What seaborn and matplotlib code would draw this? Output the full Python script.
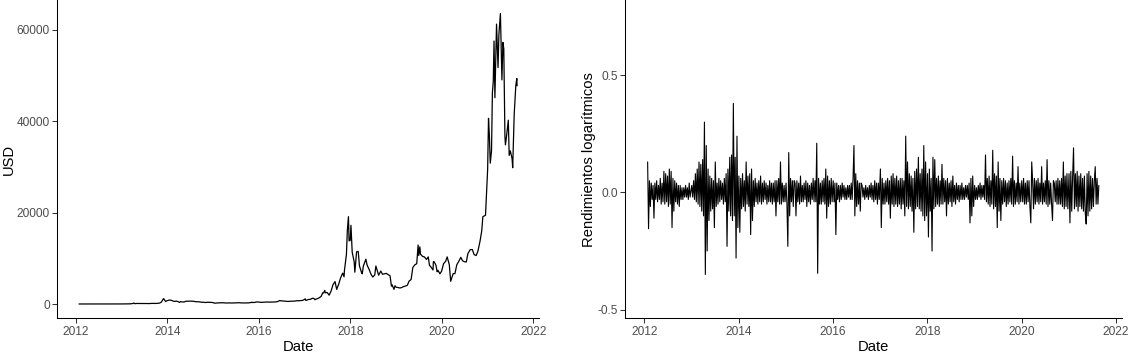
import numpy as np
import pandas as pd
import matplotlib
matplotlib.use("Agg")
import matplotlib.pyplot as plt
import matplotlib.dates as mdates
import seaborn as sns

# ---------------- data: BTC price (USD) ----------------
price_dates = [
    "2012-01-27", "2012-02-15", "2012-03-01", "2012-03-15", "2012-04-01", "2012-04-15", "2012-05-01", "2012-05-15",
    "2012-06-01", "2012-06-15", "2012-07-01", "2012-07-15", "2012-08-01", "2012-08-15", "2012-08-20", "2012-09-01",
    "2012-09-15", "2012-10-01", "2012-10-15", "2012-11-01", "2012-11-15", "2012-12-01", "2012-12-15",
    "2013-01-01", "2013-01-15", "2013-02-01", "2013-02-15", "2013-03-01", "2013-03-15", "2013-04-01", "2013-04-09",
    "2013-04-16", "2013-05-01", "2013-05-15", "2013-06-01", "2013-06-15", "2013-07-01", "2013-07-15", "2013-08-01",
    "2013-08-15", "2013-09-01", "2013-09-15", "2013-10-01", "2013-10-15", "2013-11-01", "2013-11-15", "2013-11-30",
    "2013-12-04", "2013-12-18", "2013-12-31",
    "2014-01-15", "2014-02-01", "2014-02-15", "2014-03-01", "2014-03-15", "2014-04-01", "2014-04-10", "2014-04-15",
    "2014-05-01", "2014-05-15", "2014-06-01", "2014-06-15", "2014-07-01", "2014-07-15", "2014-08-01", "2014-08-15",
    "2014-09-01", "2014-09-15", "2014-10-01", "2014-10-15", "2014-11-01", "2014-11-15", "2014-12-01", "2014-12-15",
    "2015-01-01", "2015-01-14", "2015-02-01", "2015-02-15", "2015-03-01", "2015-03-15", "2015-04-01", "2015-04-15",
    "2015-05-01", "2015-05-15", "2015-06-01", "2015-06-15", "2015-07-01", "2015-07-15", "2015-08-01", "2015-08-18",
    "2015-09-01", "2015-09-15", "2015-10-01", "2015-10-15", "2015-11-01", "2015-11-04", "2015-11-15", "2015-12-01",
    "2015-12-15",
    "2016-01-01", "2016-01-15", "2016-02-01", "2016-02-15", "2016-03-01", "2016-03-15", "2016-04-01", "2016-04-15",
    "2016-05-01", "2016-05-15", "2016-06-01", "2016-06-16", "2016-07-01", "2016-07-15", "2016-08-01", "2016-08-15",
    "2016-09-01", "2016-09-15", "2016-10-01", "2016-10-15", "2016-11-01", "2016-11-15", "2016-12-01", "2016-12-15",
    "2017-01-01", "2017-01-05", "2017-01-11", "2017-02-01", "2017-02-15", "2017-03-01", "2017-03-15", "2017-03-25",
    "2017-04-01", "2017-04-15", "2017-05-01", "2017-05-15", "2017-05-25", "2017-06-01", "2017-06-11", "2017-06-15",
    "2017-07-01", "2017-07-16", "2017-08-01", "2017-08-15", "2017-09-01", "2017-09-14", "2017-10-01", "2017-10-15",
    "2017-11-01", "2017-11-12", "2017-11-15", "2017-12-01", "2017-12-08", "2017-12-17", "2017-12-22", "2017-12-31",
    "2018-01-06", "2018-01-16", "2018-02-01", "2018-02-06", "2018-02-20", "2018-03-05", "2018-03-15", "2018-04-01",
    "2018-04-06", "2018-04-15", "2018-05-05", "2018-05-15", "2018-06-01", "2018-06-15", "2018-06-29", "2018-07-15",
    "2018-07-24", "2018-08-01", "2018-08-15", "2018-09-01", "2018-09-15", "2018-10-01", "2018-10-15", "2018-11-01",
    "2018-11-14", "2018-11-25", "2018-12-01", "2018-12-15", "2018-12-24", "2018-12-31",
    "2019-01-15", "2019-02-01", "2019-02-15", "2019-03-01", "2019-03-15", "2019-04-01", "2019-04-15", "2019-05-01",
    "2019-05-15", "2019-06-01", "2019-06-15", "2019-06-26", "2019-07-01", "2019-07-10", "2019-07-15", "2019-08-01",
    "2019-08-15", "2019-09-01", "2019-09-15", "2019-09-25", "2019-10-01", "2019-10-23", "2019-10-26", "2019-11-01",
    "2019-11-15", "2019-11-25", "2019-12-01", "2019-12-17", "2019-12-31",
    "2020-01-15", "2020-02-01", "2020-02-13", "2020-03-01", "2020-03-12", "2020-04-01", "2020-04-15", "2020-04-30",
    "2020-05-15", "2020-06-01", "2020-06-15", "2020-07-01", "2020-07-15", "2020-07-27", "2020-08-15", "2020-09-01",
    "2020-09-15", "2020-10-01", "2020-10-15", "2020-11-01", "2020-11-15", "2020-11-24", "2020-12-01", "2020-12-15",
    "2020-12-27",
    "2021-01-01", "2021-01-08", "2021-01-15", "2021-01-22", "2021-02-01", "2021-02-08", "2021-02-15", "2021-02-21",
    "2021-02-28", "2021-03-13", "2021-03-25", "2021-04-01", "2021-04-13", "2021-04-25", "2021-05-03", "2021-05-10",
    "2021-05-19", "2021-05-23", "2021-06-01", "2021-06-15", "2021-06-22", "2021-07-01", "2021-07-15", "2021-07-20",
    "2021-08-01", "2021-08-14", "2021-08-22", "2021-08-24",
]
price_usd = [
    5.3, 4.4, 4.9, 5.3, 4.9, 4.9, 5.0, 5.0,
    5.3, 6.5, 6.7, 7.7, 9.4, 13.0, 10.0, 10.2,
    11.8, 12.4, 11.8, 10.6, 11.2, 12.6, 13.4,
    13.3, 14.5, 20.4, 27, 34, 47, 104, 230,
    68, 117, 114, 129, 100, 88, 98, 105,
    100, 135, 126, 125, 150, 205, 420, 1130,
    1150, 550, 730,
    850, 830, 650, 565, 630, 475, 360, 520,
    450, 445, 630, 600, 640, 620, 590, 500,
    475, 475, 385, 395, 325, 375, 380, 345,
    315, 178, 225, 235, 260, 285, 245, 220,
    233, 237, 222, 237, 258, 286, 280, 230,
    228, 230, 238, 254, 325, 400, 320, 362,
    455,
    434, 374, 373, 408, 432, 416, 417, 430,
    451, 455, 537, 760, 676, 664, 606, 567,
    573, 607, 614, 640, 730, 711, 756, 780,
    1000, 1150, 780, 990, 1010, 1220, 1250, 930,
    1080, 1180, 1420, 1750, 2450, 2400, 2970, 2450,
    2500, 1930, 2870, 4200, 4900, 3200, 4400, 5700,
    6750, 5950, 7300, 10900, 16000, 19100, 13800, 13900,
    17200, 11300, 9200, 6950, 11400, 11500, 8300, 6850,
    6600, 8300, 9800, 8500, 7500, 6500, 5900, 6350,
    8300, 7600, 6300, 7200, 6500, 6600, 6700, 6380,
    6200, 3900, 4200, 3200, 4000, 3700,
    3600, 3500, 3600, 3800, 3900, 4100, 5000, 5350,
    8000, 8600, 8800, 12900, 10600, 12500, 10900, 10400,
    10300, 9750, 10300, 8400, 8300, 7450, 9250, 9250,
    8500, 7050, 7400, 6600, 7200,
    8800, 9350, 10300, 8600, 4970, 6650, 6650, 8600,
    9300, 10200, 9450, 9230, 9200, 11000, 11900, 11900,
    10800, 10600, 11500, 13700, 16000, 19100, 19200, 19400,
    26500,
    29400, 40600, 36800, 30800, 33500, 46200, 48700, 57500,
    45100, 61200, 51700, 59000, 63500, 49000, 57200, 55800,
    36700, 34800, 36700, 40200, 32500, 33500, 31800, 29800,
    41500, 47800, 49300, 47700,
]

# ---------------- data: log returns (weekly-spaced readings) ----------------
ret_start = {2012: "2012-01-27", 2013: "2013-01-03", 2014: "2014-01-03", 2015: "2015-01-03",
             2016: "2016-01-03", 2017: "2017-01-03", 2018: "2018-01-03", 2019: "2019-01-03",
             2020: "2020-01-03", 2021: "2021-01-03"}
ret_2012 = [0.13, -0.155, 0.05, -0.06, 0.04, -0.03, 0.03, -0.11, 0.04, -0.03, 0.05, -0.04,
            0.03, -0.03, 0.06, -0.05, 0.04, -0.04, 0.09, -0.05, 0.08, -0.04, 0.07, -0.06,
            0.10, -0.05, 0.09, -0.15, 0.06, -0.08, 0.05, -0.04, 0.04, -0.05, 0.03, -0.06,
            0.03, -0.03, 0.02, -0.03, 0.02, -0.02, 0.03, -0.02, 0.02, -0.03, 0.04, -0.02]
ret_2013 = [0.03, -0.02, 0.05, -0.03, 0.08, -0.04, 0.10, -0.05, 0.13, -0.06,
            0.12, -0.08, 0.14, -0.10, 0.30, -0.35, 0.20, -0.25, 0.10, -0.12,
            0.07, -0.08, 0.06, -0.07, 0.05, -0.15, 0.13, -0.06, 0.04, -0.05,
            0.06, -0.04, 0.05, -0.03, 0.04, -0.05, 0.06, -0.04, 0.08, -0.23,
            0.10, -0.08, 0.15, -0.10, 0.16, -0.12, 0.38, -0.10, 0.15, -0.28,
            0.24, -0.15]
ret_2014 = [0.07, -0.17, 0.06, -0.07, 0.08, -0.06, 0.05, -0.08, 0.13, -0.05,
            0.07, -0.06, 0.08, -0.18, 0.10, -0.12, 0.05, -0.06, 0.06, -0.04,
            0.04, -0.05, 0.05, -0.04, 0.07, -0.05, 0.04, -0.04, 0.05, -0.03,
            0.04, -0.05, 0.03, -0.04, 0.05, -0.04, 0.04, -0.05, 0.04, -0.04,
            0.05, -0.10, 0.05, -0.04, 0.06, -0.05, 0.13, -0.05, 0.04, -0.04,
            0.03, -0.04]
ret_2015 = [0.04, -0.05, -0.23, 0.17, -0.10, 0.06, -0.04, 0.05, -0.06, 0.05,
            0.04, -0.10, 0.05, -0.04, 0.04, -0.05, 0.07, -0.04, 0.03, -0.04,
            0.04, -0.03, 0.05, -0.06, 0.04, -0.04, 0.03, -0.05, 0.04, -0.03,
            0.06, -0.04, 0.05, -0.04, 0.21, -0.345, 0.06, -0.05, 0.04, -0.05,
            0.05, -0.04, 0.06, -0.05, 0.10, -0.11, 0.07, -0.06, 0.05, -0.05,
            0.06, -0.04]
ret_2016 = [0.05, -0.04, 0.04, -0.18, 0.04, -0.03, 0.03, -0.04, 0.03, -0.03,
            0.04, -0.02, 0.03, -0.03, 0.02, -0.03, 0.03, -0.02, 0.03, -0.03,
            0.04, -0.03, 0.06, 0.20, -0.10, 0.08, -0.06, 0.05, -0.05, 0.04,
            -0.08, 0.04, 0.03, -0.02, 0.02, -0.03, 0.03, -0.02, 0.02, -0.03,
            0.03, -0.02, 0.04, -0.03, 0.03, -0.04, 0.05, -0.03, 0.04, -0.05,
            0.04, -0.03]
ret_2017 = [0.10, -0.15, 0.06, -0.05, 0.04, -0.05, 0.05, -0.04, 0.06, -0.05,
            0.05, -0.11, 0.07, -0.05, 0.08, -0.06, 0.06, -0.05, 0.07, -0.06,
            0.05, -0.05, 0.06, -0.07, 0.06, -0.05, 0.05, -0.10, 0.24, -0.06,
            0.13, -0.07, 0.08, -0.06, 0.07, -0.08, 0.06, -0.17, 0.09, -0.07,
            0.10, -0.06, 0.15, -0.07, 0.08, -0.08, 0.10, -0.10, 0.20, -0.12,
            0.13, -0.10]
ret_2018 = [0.08, -0.19, 0.10, -0.08, 0.06, -0.25, 0.15, -0.07, 0.14, -0.06,
            0.06, -0.05, 0.07, -0.06, 0.05, -0.05, 0.12, -0.05, 0.06, -0.04,
            0.05, -0.10, 0.06, -0.05, 0.04, -0.04, 0.05, -0.06, 0.07, -0.04,
            0.03, -0.05, 0.04, -0.03, 0.03, -0.04, 0.03, -0.03, 0.04, -0.03,
            0.02, -0.03, 0.03, -0.02, 0.03, -0.03, 0.04, -0.13, 0.06, -0.10,
            0.07, -0.06]
ret_2019 = [0.03, -0.03, 0.02, -0.03, 0.03, -0.02, 0.04, -0.03, 0.03, -0.02,
            0.03, -0.03, 0.16, -0.04, 0.06, -0.05, 0.07, -0.06, 0.05, -0.05,
            0.18, -0.07, 0.08, -0.06, 0.07, -0.15, 0.13, -0.08, 0.06, -0.12,
            0.05, -0.05, 0.06, -0.04, 0.05, -0.06, 0.04, -0.05, 0.05, -0.04,
            0.06, -0.05, 0.155, -0.06, 0.05, -0.05, 0.04, -0.04, 0.11, -0.05,
            0.04, -0.04]
ret_2020 = [0.05, -0.04, 0.06, -0.05, 0.04, -0.05, 0.05, -0.04, 0.05, -0.06,
            -0.13, 0.13, 0.05, -0.07, 0.06, -0.05, 0.05, -0.04, 0.06, -0.05,
            0.04, -0.04, 0.11, -0.05, 0.04, -0.04, 0.05, -0.05, 0.14, -0.06,
            0.05, -0.05, 0.04, -0.05, -0.12, 0.05, 0.04, -0.04, 0.05, -0.05,
            0.06, -0.05, 0.05, -0.05, 0.06, -0.06, 0.13, -0.07, 0.07, -0.06,
            0.08, -0.07]
ret_2021 = [0.08, -0.13, 0.09, -0.08, 0.07, 0.19, -0.07, 0.08, -0.06, 0.09,
            -0.08, 0.07, -0.06, 0.08, -0.07, 0.06, -0.08, 0.07, -0.09, -0.135,
            0.08, -0.10, 0.09, -0.08, 0.07, -0.07, 0.06, -0.06, 0.05, 0.11,
            -0.05, 0.06, -0.05, 0.03]
ret_by_year = {2012: ret_2012, 2013: ret_2013, 2014: ret_2014, 2015: ret_2015, 2016: ret_2016,
               2017: ret_2017, 2018: ret_2018, 2019: ret_2019, 2020: ret_2020, 2021: ret_2021}

price_df = pd.DataFrame({"Date": pd.to_datetime(price_dates), "USD": price_usd})
frames = []
for yr, vals in ret_by_year.items():
    d = pd.date_range(ret_start[yr], periods=len(vals), freq="7D")
    frames.append(pd.DataFrame({"Date": d, "ret": vals}))
ret_df = pd.concat(frames, ignore_index=True)

# ---------------- style ----------------
sns.set_theme(style="ticks")
plt.rcParams["font.family"] = ["Liberation Sans", "DejaVu Sans"]
TICK_FS = 8.6
TITLE_FS = 10.6
TICK_COL = "#4D4D4D"

W, H = 1130, 353
fig = plt.figure(figsize=(W / 100, H / 100), dpi=100)

def px_axes(x0, x1, y_bottom):
    return [x0 / W, (H - y_bottom) / H, (x1 - x0) / W, y_bottom / H]

ax1 = fig.add_axes(px_axes(57.3, 539.0, 318.3))
ax2 = fig.add_axes(px_axes(625.3, 1121.7, 318.3))

sns.lineplot(data=price_df, x="Date", y="USD", ax=ax1, color="black", linewidth=0.9)
sns.lineplot(data=ret_df, x="Date", y="ret", ax=ax2, color="black", linewidth=0.8)

xmin, xmax = pd.Timestamp("2011-08-07"), pd.Timestamp("2022-02-15")
for ax in (ax1, ax2):
    ax.set_xlim(xmin, xmax)
    ax.xaxis.set_major_locator(mdates.YearLocator(2))
    ax.xaxis.set_major_formatter(mdates.DateFormatter("%Y"))
    for s in ("top", "right"):
        ax.spines[s].set_visible(False)
    for s in ("left", "bottom"):
        ax.spines[s].set_color("black")
        ax.spines[s].set_linewidth(0.75)
    ax.tick_params(axis="both", which="major", length=3.3, width=0.75, color="#333333",
                   labelsize=TICK_FS, labelcolor=TICK_COL, pad=2.0)
    ax.set_xlabel("Date", fontsize=TITLE_FS, color="black", labelpad=1.5)
    ax.set_facecolor("white")

ax1.set_ylim(-3125, 66470)
ax1.set_yticks([0, 20000, 40000, 60000])
ax1.set_yticklabels(["0", "20000", "40000", "60000"])
ax1.set_ylabel("USD", fontsize=TITLE_FS, color="black", labelpad=1.0)

ax2.set_ylim(-0.537, 0.821)
ax2.set_yticks([-0.5, 0.0, 0.5])
ax2.set_yticklabels(["-0.5", "0.0", "0.5"])
ax2.set_ylabel("Rendimientos logarítmicos", fontsize=TITLE_FS, color="black", labelpad=1.0)

fig.savefig("out.png", dpi=100, facecolor="white")
